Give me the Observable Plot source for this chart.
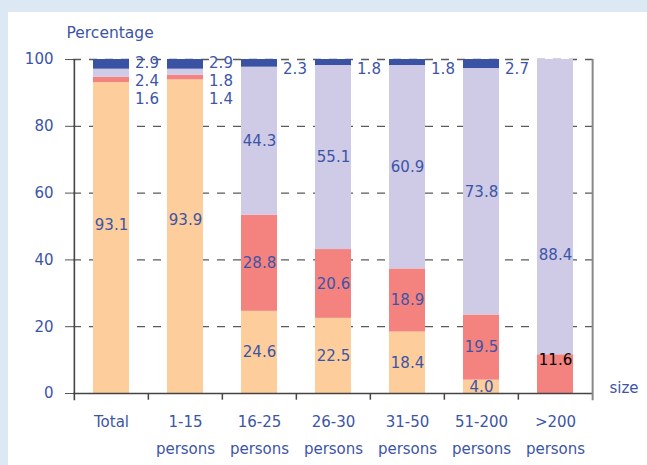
<!DOCTYPE html>
<html>
<head>
<meta charset="utf-8">
<script src="https://cdn.jsdelivr.net/npm/d3@7"></script>
<script src="https://cdn.jsdelivr.net/npm/@observablehq/plot@0.6"></script>
<style>
  html, body { margin: 0; padding: 0; background: #dce9f4; width: 647px; height: 465px; overflow: hidden; }
  #panel { position: absolute; left: 8px; top: 12px; width: 639px; height: 453px; background: white; }
</style>
</head>
<body>
<div id="panel"></div>
<script>
// ---- data ----
const categories = ["Total", "1-15 persons", "16-25 persons", "26-30 persons", "31-50 persons", "51-200 persons", ">200 persons"];
const tickLabels = ["Total", "1-15\npersons", "16-25\npersons", "26-30\npersons", "31-50\npersons", "51-200\npersons", ">200\npersons"];
const seriesNames = ["Orange", "Red", "Lavender", "Dark blue"];
const orangeValues   = [93.1, 93.9, 24.6, 22.5, 18.4, 4.0, 0];
const redValues      = [1.6, 1.4, 28.8, 20.6, 18.9, 19.5, 11.6];
const lavenderValues = [2.4, 1.8, 44.3, 55.1, 60.9, 73.8, 88.4];
const darkBlueValues = [2.9, 2.9, 2.3, 1.8, 1.8, 2.7, 0];
const yTicks = [0, 20, 40, 60, 80, 100];

// ---- styles ----
const colors = ["#fdcd9b", "#f4827f", "#cfcae6", "#3a52a4"];
const textBlue = "#3c55a6";
const W = 639, H = 453, ML = 65, MR = 54, MT = 47, MB = 72;
const half = (W - ML - MR) / categories.length / 2;
// label nudges (pixels) reproducing the original's label placement
const nudge = {"Total|Orange": -13, "1-15 persons|Orange": -16, ">200 persons|Lavender": 48, ">200 persons|Red": -14};

// ---- table ----
const seriesValues = [orangeValues, redValues, lavenderValues, darkBlueValues];
const rows = [];
categories.forEach((c, i) => {
  let base = 0;
  seriesValues.forEach((vals, j) => {
    const v = vals[i];
    rows.push({cat: c, series: seriesNames[j], j, value: v, y1: base, y2: base + v});
    base += v;
  });
});

const shown = rows.filter(d => d.value > 0);
const inside = shown.filter(d => !(d.j > 0 && d.value < 3));
const outsideRaw = shown.filter(d => d.j > 0 && d.value < 3);
const outside = [];
categories.forEach(c => {
  const g = outsideRaw.filter(d => d.cat === c).sort((a, b) => b.j - a.j);
  g.forEach((d, k) => outside.push({...d, ly: g.length > 1 ? 99 - k * 5.5 : 97}));
});
const key = d => d.cat + "|" + d.series;
const nudgeGroups = [...new Set(inside.map(d => nudge[key(d)] || 0))];

const insideMarks = nudgeGroups.map(n => Plot.text(inside.filter(d => (nudge[key(d)] || 0) === n), {
  x: "cat", y: d => (d.y1 + d.y2) / 2, dy: n, text: d => d.value.toFixed(1),
  fill: d => (d.cat === ">200 persons" && d.j === 1) ? "black" : textBlue, fontSize: 15
}));

const chart = Plot.plot({
  width: W, height: H,
  marginLeft: ML, marginRight: MR, marginTop: MT, marginBottom: MB,
  style: {fontFamily: "DejaVu Sans", fontSize: "15px", background: "white", overflow: "visible"},
  x: {domain: categories, paddingInner: 0.51, paddingOuter: 0.245, label: null},
  y: {domain: [0, 100], label: null},
  color: {domain: seriesNames, range: colors},
  marks: [
    Plot.ruleY([20, 40, 60, 80, 100], {stroke: "#5a5a5a", strokeWidth: 1.3, strokeDasharray: "8,8"}),
    Plot.barY(rows, {x: "cat", y1: "y1", y2: "y2", fill: "series"}),
    Plot.ruleY([0], {stroke: "#444", strokeWidth: 1.5}),
    Plot.ruleX([categories[0]], {dx: -half, y1: -2.2, y2: 100, stroke: "#444", strokeWidth: 1.6}),
    Plot.ruleX([categories[categories.length - 1]], {dx: half, y1: -2.2, y2: 100, stroke: "#888", strokeWidth: 2}),
    Plot.ruleX(categories.slice(1), {dx: -half, y1: -2, y2: 0, stroke: "#444", strokeWidth: 1.5}),
    Plot.axisY({ticks: yTicks, tickSize: 8, tickPadding: 12, stroke: "#555", fill: textBlue, fontSize: 15, label: null}),
    Plot.axisX({tickSize: 0, tickPadding: 14, tickFormat: (d) => tickLabels[categories.indexOf(d)], lineHeight: 1.8, fill: textBlue, fontSize: 15, label: null}),
    ...insideMarks,
    Plot.text(outside, {x: "cat", y: "ly", text: d => d.value.toFixed(1), dx: half / 2 + 5, textAnchor: "start", fill: textBlue, fontSize: 15}),
    Plot.text(["Percentage"], {frameAnchor: "top-left", dx: -7, dy: -33, text: d => d, textAnchor: "start", fill: textBlue, fontSize: 15.5}),
    Plot.text(["size"], {frameAnchor: "bottom-right", dx: 16, dy: -1, text: d => d, textAnchor: "start", fill: textBlue, fontSize: 15})
  ]
});
document.getElementById("panel").appendChild(chart);
</script>
</body>
</html>
